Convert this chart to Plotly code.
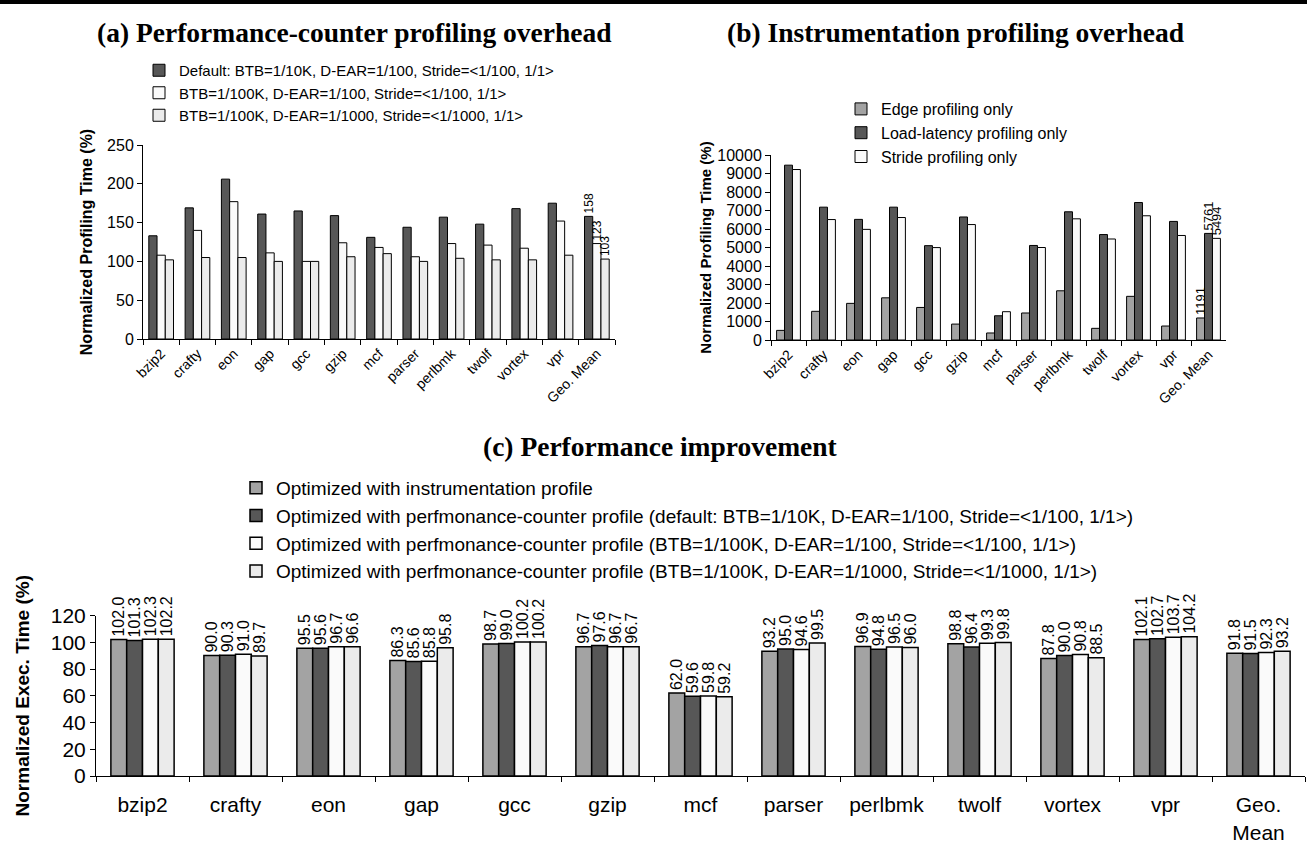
import plotly.graph_objects as go

categories = ["bzip2", "crafty", "eon", "gap", "gcc", "gzip", "mcf", "parser",
              "perlbmk", "twolf", "vortex", "vpr", "Geo. Mean"]
categories_c = ["bzip2", "crafty", "eon", "gap", "gcc", "gzip", "mcf", "parser",
                "perlbmk", "twolf", "vortex", "vpr", "Geo.<br>Mean"]

# (a) Performance-counter profiling overhead (%)
a_default = [133, 169, 206, 161, 165, 159, 131, 144, 157, 148, 168, 175, 158]
a_btb100k = [108, 140, 177, 111, 100, 124, 118, 106, 123, 121, 117, 152, 123]
a_dear1000 = [102, 105, 105, 100, 100, 106, 110, 100, 104, 102, 102, 108, 103]

# (b) Instrumentation profiling overhead (%)
b_edge = [520, 1550, 1980, 2280, 1760, 860, 380, 1460, 2660, 630, 2360, 755, 1191]
b_load = [9450, 7180, 6520, 7180, 5100, 6650, 1310, 5110, 6930, 5700, 7430, 6410, 5761]
b_stride = [9215, 6510, 5980, 6620, 4995, 6240, 1530, 5000, 6550, 5460, 6715, 5650, 5494]

# (c) Performance improvement (normalized exec time %)
c_instr = [102.0, 90.0, 95.5, 86.3, 98.7, 96.7, 62.0, 93.2, 96.9, 98.8, 87.8, 102.1, 91.8]
c_default = [101.3, 90.3, 95.6, 85.6, 99.0, 97.6, 59.6, 95.0, 94.8, 96.4, 90.0, 102.7, 91.5]
c_btb100k = [102.3, 91.0, 96.7, 85.8, 100.2, 96.7, 59.8, 94.6, 96.5, 99.3, 90.8, 103.7, 92.3]
c_dear1000 = [102.2, 89.7, 96.6, 95.8, 100.2, 96.7, 59.2, 99.5, 96.0, 99.8, 88.5, 104.2, 93.2]

names_a = ["Default: BTB=1/10K, D-EAR=1/100, Stride=<1/100, 1/1>",
           "BTB=1/100K, D-EAR=1/100, Stride=<1/100, 1/1>",
           "BTB=1/100K, D-EAR=1/1000, Stride=<1/1000, 1/1>"]
names_b = ["Edge profiling only", "Load-latency profiling only", "Stride profiling only"]
names_c = ["Optimized with instrumentation profile",
           "Optimized with perfmonance-counter profile (default: BTB=1/10K, D-EAR=1/100, Stride=<1/100, 1/1>)",
           "Optimized with perfmonance-counter profile (BTB=1/100K, D-EAR=1/100, Stride=<1/100, 1/1>)",
           "Optimized with perfmonance-counter profile (BTB=1/100K, D-EAR=1/1000, Stride=<1/1000, 1/1>)"]

DARK = "#575757"
MID = "#A3A3A3"
WHITE = "#FAFAFA"
LIGHT = "#EBEBEB"

W, H = 1307, 855
SANS = "Liberation Sans, Arial, sans-serif"
SERIF = "Liberation Serif, Times New Roman, serif"


def px_x(p):
    return p / W


def px_y(p):
    return 1 - p / H


fig = go.Figure()


def geo_text(vals):
    return [""] * (len(vals) - 1) + [str(vals[-1])]


for vals, name, col in zip([a_default, a_btb100k, a_dear1000], names_a, [DARK, WHITE, LIGHT]):
    fig.add_trace(go.Bar(
        x=categories, y=vals, name=name, xaxis="x", yaxis="y", legend="legend",
        marker=dict(color=col, line=dict(color="black", width=1)),
        text=geo_text(vals), textposition="outside", textangle=-90,
        textfont=dict(family=SANS, size=12, color="black"),
        cliponaxis=False, constraintext="none",
    ))

for vals, name, col in zip([b_edge, b_load, b_stride], names_b, [MID, DARK, WHITE]):
    fig.add_trace(go.Bar(
        x=categories, y=vals, name=name, xaxis="x2", yaxis="y2", legend="legend2",
        marker=dict(color=col, line=dict(color="black", width=1)),
        text=geo_text(vals), textposition="outside", textangle=-90,
        textfont=dict(family=SANS, size=13, color="black"),
        cliponaxis=False, constraintext="none",
    ))

for vals, name, col in zip([c_instr, c_default, c_btb100k, c_dear1000], names_c,
                           [MID, DARK, WHITE, LIGHT]):
    fig.add_trace(go.Bar(
        x=categories_c, y=vals, name=name, xaxis="x3", yaxis="y3", legend="legend3",
        marker=dict(color=col, line=dict(color="black", width=1.5)),
        text=[f"{v:.1f}" for v in vals], textposition="outside", textangle=-90,
        textfont=dict(family=SANS, size=16, color="black"),
        cliponaxis=False, constraintext="none",
    ))

axis_common = dict(showline=True, linecolor="black", linewidth=1, showgrid=False,
                   zeroline=False, ticks="outside", tickcolor="black", ticklen=5,
                   automargin=False, tickfont=dict(family=SANS, color="black"))

fig.update_layout(
    template="none",
    width=W, height=H,
    margin=dict(l=0, r=0, t=0, b=0, pad=0),
    paper_bgcolor="white", plot_bgcolor="white",
    barmode="group", bargap=0.32, bargroupgap=0,
    showlegend=True,
    xaxis=dict(**axis_common, domain=[px_x(143), px_x(615)], anchor="y",
               tickson="boundaries", tickangle=-45, tickfont_size=14),
    yaxis=dict(**axis_common, domain=[px_y(339), px_y(145)], anchor="x",
               range=[0, 250], dtick=50, tickfont_size=16,
               title=dict(text="<b>Normalized Profiling Time (%)</b>",
                          font=dict(family=SANS, size=16, color="black"), standoff=10)),
    xaxis2=dict(**axis_common, domain=[px_x(771), px_x(1226)], anchor="y2",
                tickson="boundaries", tickangle=-45, tickfont_size=14),
    yaxis2=dict(**axis_common, domain=[px_y(340), px_y(155)], anchor="x2",
                range=[0, 10000], dtick=1000, tickformat="d", tickfont_size=16,
                title=dict(text="<b>Normalized Profiling Time (%)</b>",
                           font=dict(family=SANS, size=15, color="black"), standoff=2)),
    xaxis3=dict(**axis_common, domain=[px_x(96), px_x(1305)], anchor="y3",
                tickson="boundaries", tickangle=0, tickfont_size=21, ticklabelstandoff=10),
    yaxis3=dict(**axis_common, domain=[px_y(776), px_y(615.5)], anchor="x3",
                range=[0, 120], dtick=20, tickfont_size=21,
                title=dict(text="<b>Normalized Exec. Time (%)</b>",
                           font=dict(family=SANS, size=19, color="black"), standoff=16)),
    legend=dict(x=px_x(139), y=px_y(54), xanchor="left", yanchor="top",
                bgcolor="rgba(0,0,0,0)", font=dict(family=SANS, size=15, color="black"),
                traceorder="normal"),
    legend2=dict(x=px_x(841), y=px_y(92), xanchor="left", yanchor="top",
                 bgcolor="rgba(0,0,0,0)", font=dict(family=SANS, size=16, color="black"),
                 traceorder="normal"),
    legend3=dict(x=px_x(236), y=px_y(469), xanchor="left", yanchor="top",
                 bgcolor="rgba(0,0,0,0)", font=dict(family=SANS, size=19, color="black"),
                 traceorder="normal"),
    annotations=[
        dict(text="<b>(a) Performance-counter profiling overhead</b>", x=px_x(354), y=px_y(32),
             xref="paper", yref="paper", xanchor="center", yanchor="middle", showarrow=False,
             font=dict(family=SERIF, size=27.5, color="black")),
        dict(text="<b>(b) Instrumentation profiling overhead</b>", x=px_x(955), y=px_y(32),
             xref="paper", yref="paper", xanchor="center", yanchor="middle", showarrow=False,
             font=dict(family=SERIF, size=27.5, color="black")),
        dict(text="<b>(c) Performance improvement</b>", x=px_x(660), y=px_y(446),
             xref="paper", yref="paper", xanchor="center", yanchor="middle", showarrow=False,
             font=dict(family=SERIF, size=27.5, color="black")),
    ],
    shapes=[dict(type="rect", xref="paper", yref="paper", x0=0, x1=1,
                 y0=px_y(4), y1=1, fillcolor="black", line=dict(width=0))],
)

fig.write_html("out.html", config={"displayModeBar": False},
               post_script="document.body.style.margin='0px';")
